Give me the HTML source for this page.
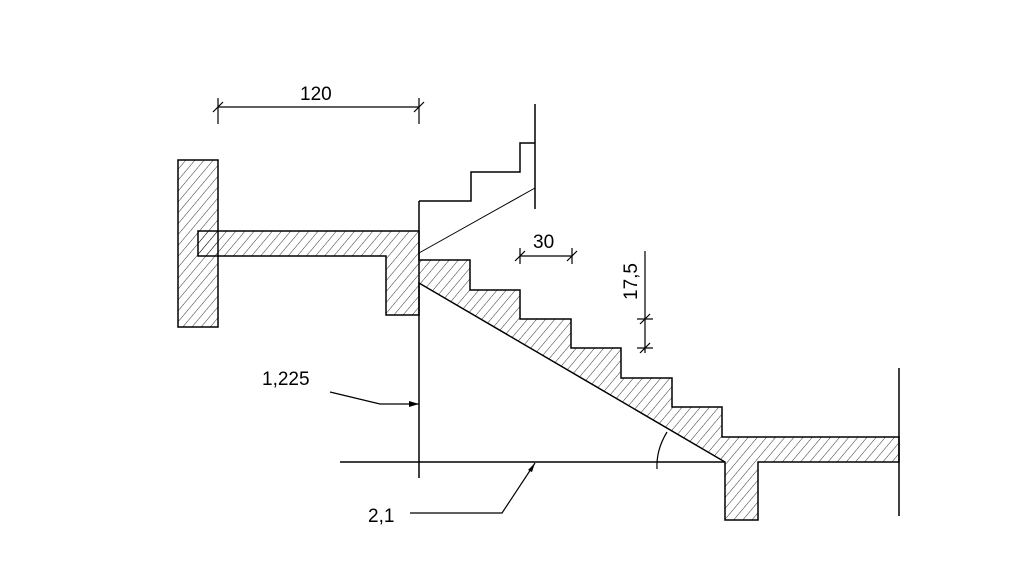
<!DOCTYPE html>
<html><head><style>body{margin:0;background:#fff}svg{display:block}</style></head><body>
<svg width="1017" height="571" xmlns="http://www.w3.org/2000/svg">
<defs><pattern id="h" patternUnits="userSpaceOnUse" width="7" height="7" patternTransform="rotate(40)"><line x1="0" y1="0" x2="0" y2="7" stroke="#000" stroke-width="0.8"/></pattern></defs>
<g fill="url(#h)" stroke="#000" stroke-width="1.5">
<rect x="178" y="160" width="40" height="167"/>
<polygon points="198,231 419,231 419,260 470,260 470,290 520,290 520,319 571,319 571,348 621,348 621,378 672,378 672,407 722,407 722,437 899,437 899,462 758,462 758,520 725,520 725,462 419,283 419,315 386,315 386,256 198,256"/>
</g>
<g fill="none" stroke="#000" stroke-width="1.5">
<line x1="419" y1="201" x2="419" y2="478"/>
<polyline points="419,201 471,201 471,172 520,172 520,143 535,143"/>
<line x1="535" y1="104" x2="535" y2="209"/>
<line x1="419" y1="253" x2="535" y2="188" stroke-width="1"/>
<line x1="899" y1="368" x2="899" y2="516"/>
<line x1="340" y1="462" x2="725" y2="462"/>
<line x1="218" y1="107" x2="419" y2="107" stroke-width="1.2"/>
<line x1="218" y1="98" x2="218" y2="124" stroke-width="1.2"/>
<line x1="419" y1="98" x2="419" y2="124" stroke-width="1.2"/>
<line x1="520" y1="256" x2="572" y2="256" stroke-width="1.2"/>
<line x1="520" y1="248" x2="520" y2="264" stroke-width="1.2"/>
<line x1="572" y1="248" x2="572" y2="264" stroke-width="1.2"/>
<line x1="645" y1="251" x2="645" y2="353" stroke-width="1.2"/>
<line x1="637" y1="319" x2="653" y2="319" stroke-width="1.2"/>
<line x1="637" y1="348" x2="653" y2="348" stroke-width="1.2"/>
<polyline points="330,392 380,404 419,404" stroke-width="1.2"/>
<polyline points="410,513 502,513 535,463" stroke-width="1.2"/>
<path d="M657,469 Q656,450 667,432" stroke-width="1.2"/>
</g>
<g stroke="#000" stroke-width="1.2"><line x1="213" y1="112" x2="223" y2="102"/><line x1="414" y1="112" x2="424" y2="102"/><line x1="515" y1="261" x2="525" y2="251"/><line x1="567" y1="261" x2="577" y2="251"/><line x1="640" y1="324" x2="650" y2="314"/><line x1="640" y1="353" x2="650" y2="343"/></g>
<polygon points="419,404 409,401 409,407" fill="#000"/>
<polygon points="535,463 528,470 532,472" fill="#000"/>
<g font-family="Liberation Sans, sans-serif" font-size="19" fill="#000" font-weight="300">
<text x="300" y="100">120</text>
<text x="533" y="248">30</text>
<text x="262" y="385">1,225</text>
<text x="368" y="522">2,1</text>
<text transform="translate(637,300) rotate(-90)">17,5</text>
</g>
</svg>
</body></html>
